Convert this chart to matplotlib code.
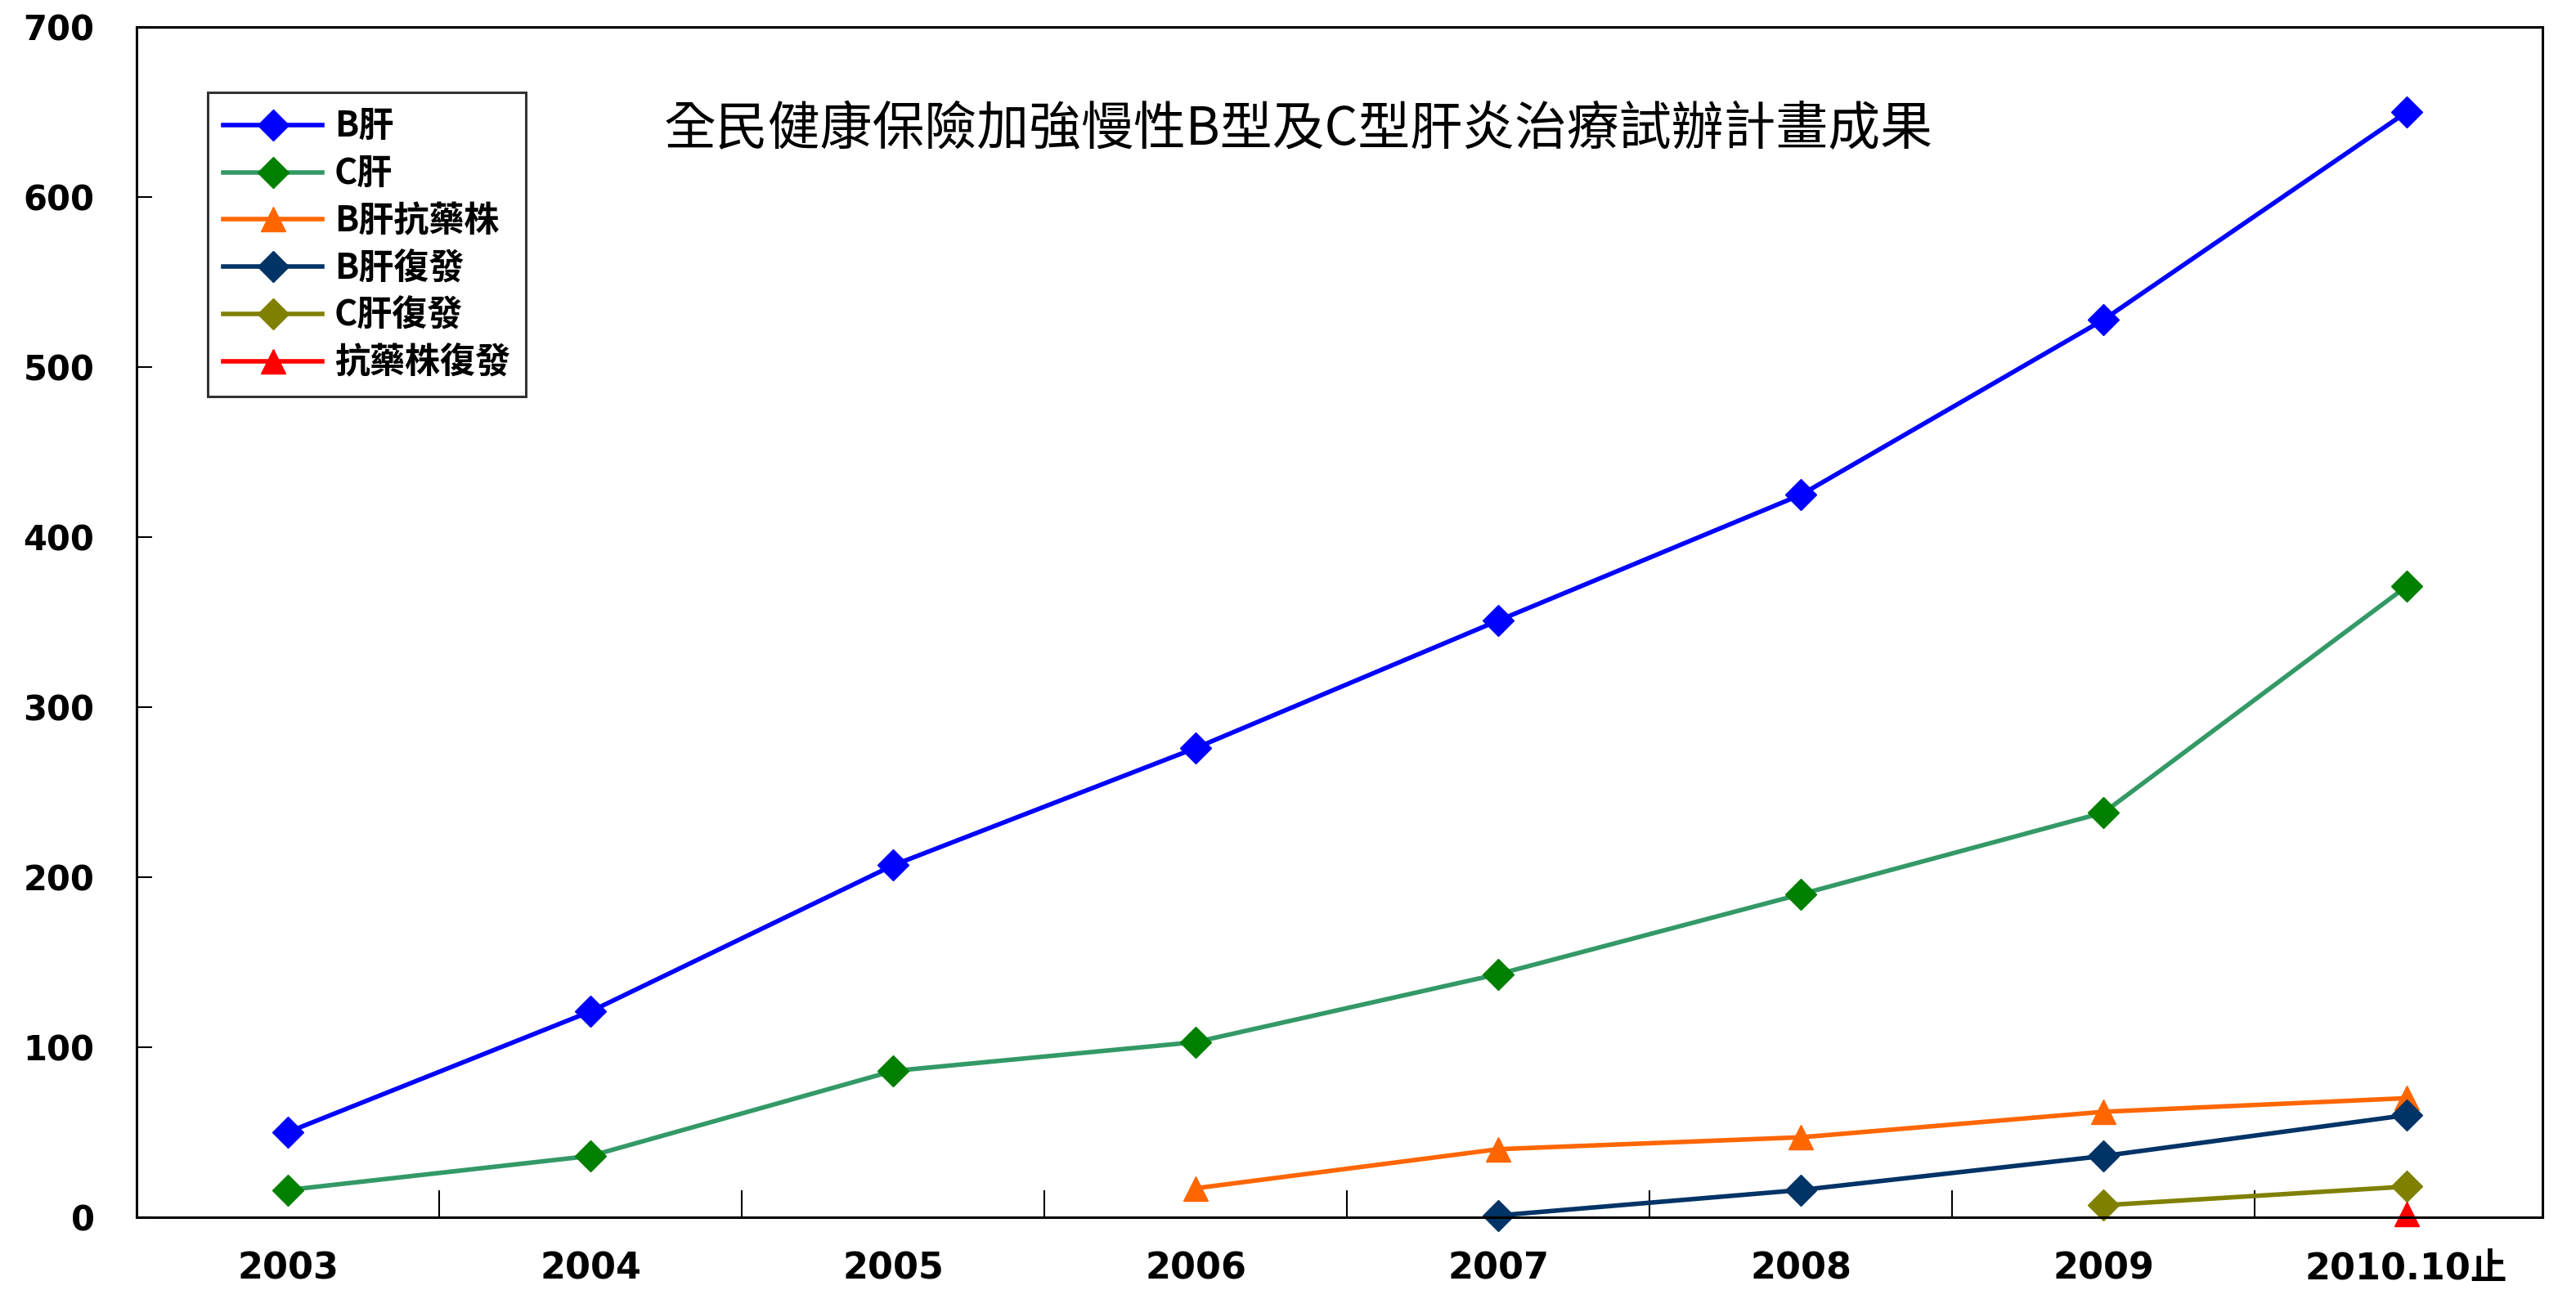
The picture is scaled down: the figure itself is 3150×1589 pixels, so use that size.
import matplotlib
matplotlib.use("Agg")
import matplotlib.pyplot as plt

plt.rcParams['font.family'] = ['Noto Sans CJK TC', 'DejaVu Sans']

years = ['2003', '2004', '2005', '2006', '2007', '2008', '2009', '2010.10止']

b_liver = [50, 121, 207, 276, 351, 425, 528, 650]
c_liver = [16, 36, 86, 103, 143, 190, 238, 371]
b_resist = [None, None, None, 17, 40, 47, 62, 70]
b_relapse = [None, None, None, None, 1, 16, 36, 60]
c_relapse = [None, None, None, None, None, None, 7, 18]
resist_relapse = [None, None, None, None, None, None, None, 2]

title = '全民健康保險加強慢性B型及C型肝炎治療試辦計畫成果'

series = [
    ('B肝', b_liver, '#0000FF', '#0000FF', 'D'),
    ('C肝', c_liver, '#339966', '#008000', 'D'),
    ('B肝抗藥株', b_resist, '#FF6600', '#FF6600', '^'),
    ('B肝復發', b_relapse, '#003366', '#003366', 'D'),
    ('C肝復發', c_relapse, '#808000', '#808000', 'D'),
    ('抗藥株復發', resist_relapse, '#FF0000', '#FF0000', '^'),
]

fig = plt.figure(figsize=(31.5, 15.89), dpi=100)
ax = fig.add_axes([0.053, 0.063, 0.934, 0.916])

x = list(range(len(years)))
for name, vals, lc, mc, mk in series:
    xs = [i for i, v in zip(x, vals) if v is not None]
    ys = [v for v in vals if v is not None]
    ax.plot(xs, ys, color=lc, lw=4, marker=mk, markersize=19 if mk == 'D' else 22,
            markerfacecolor=mc, markeredgecolor=mc, label=name, clip_on=False,
            zorder=3)

ax.set_xlim(-0.5, 7.45)
ax.set_ylim(0, 700)
ax.set_yticks(range(0, 701, 100))
ax.set_yticklabels([str(v) for v in range(0, 701, 100)], fontsize=30,
                   fontweight='bold', family=['DejaVu Sans'])
ax.tick_params(axis='y', direction='in', length=14, width=1.5, pad=37)

ax.set_xticks([i + 0.5 for i in range(7)])
ax.set_xticklabels([])
ax.tick_params(axis='x', which='major', direction='in', length=24, width=1.5)
ax.set_xticks(x, minor=True)
ax.set_xticklabels(years, minor=True, fontsize=32, fontweight='bold',
                   family=['DejaVu Sans', 'Noto Sans CJK TC'])
ax.tick_params(axis='x', which='minor', length=0, pad=30)

for s in ax.spines.values():
    s.set_linewidth(2.2)
    s.set_color('black')
    s.set_zorder(4)

ax.text(0.483, 0.914, title, transform=ax.transAxes, fontsize=46,
        ha='center', va='center', color='black')

leg = ax.legend(loc='upper left', bbox_to_anchor=(0.0296, 0.945), borderaxespad=0,
                prop={'size': 31, 'weight': 'bold'},
                handlelength=2.8, handletextpad=0.35, labelspacing=0.32,
                fancybox=False, frameon=True, borderpad=0.45)
leg.get_frame().set_edgecolor('black')
leg.get_frame().set_linewidth(2.2)
leg.set_zorder(5)

fig.savefig('out.png', dpi=100)
